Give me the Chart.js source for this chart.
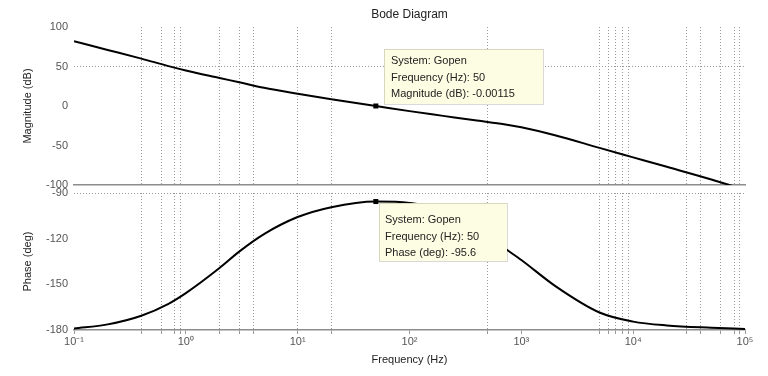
<!DOCTYPE html>
<html lang="en">
<head>
<meta charset="UTF-8" />
<title>Bode Diagram</title>
<style>
  html, body { margin: 0; padding: 0; background: #fff; }
  .wrap { position: relative; width: 768px; height: 376px; }
  .wrap canvas { position: absolute; left: 0; top: 0; }
</style>
</head>
<body>
<div class="wrap">
  <canvas id="magChart" width="768" height="376"></canvas>
  <canvas id="phaseChart" width="768" height="376"></canvas>
</div>
<script src="https://cdn.jsdelivr.net/npm/chart.js"></script>
<script>
// frequency response
var freqs = [0.1, 0.2, 0.4, 0.7, 1, 2, 3, 5, 10, 20, 50, 100, 200, 400, 700, 1000, 2000, 5000, 10000, 20000, 50000, 100000];
var magnitude = [82, 71, 60, 50.5, 45, 35.5, 30, 23, 15.5, 8.5, 0, -6.5, -12.5, -18.5, -23, -27, -37, -53, -65, -77, -93, -106];
var phase = [-179, -176.3, -170.6, -162.8, -155.8, -139.3, -128.5, -117, -105.8, -99.3, -95.6, -96.5, -101, -113, -126, -134, -151, -168.5, -174.5, -177, -178.5, -179.3];

var decades = [0.1, 1, 10, 100, 1000, 10000, 100000];
var decadeLabels = ["10⁻¹", "10⁰", "10¹", "10²", "10³", "10⁴", "10⁵"];
var gridFreqs = [0.4, 0.6, 0.8, 0.9, 2, 3, 4, 10, 20, 500, 5000, 6000, 7000, 8000, 9000, 30000, 40000, 60000, 80000, 90000];

var magTicks = [-100, -50, 0, 50, 100];
var magGrid = [50];
var phaseTicks = [-180, -150, -120, -90];
var phaseGrid = [-90];

var tipFreq = 50;
var tipMag = -0.00115;
var tipPhase = -95.6;
var magTipLines = ["System: Gopen", "Frequency (Hz): 50", "Magnitude (dB): -0.00115"];
var phaseTipLines = ["System: Gopen", "Frequency (Hz): 50", "Phase (deg): -95.6"];

var FONT = '"Liberation Sans", Arial, sans-serif';
var GRID = "#9a9a9a";

function points(ys) {
  return freqs.map(function (f, i) { return { x: f, y: ys[i] }; });
}

var xTicks = decades.concat(gridFreqs.filter(function (v) {
  return decades.indexOf(v) < 0;
})).sort(function (a, b) { return a - b; });

function xGridColor(ctx) {
  return ctx.tick && gridFreqs.indexOf(ctx.tick.value) >= 0 ? GRID : "rgba(0,0,0,0)";
}

function yGridColor(list) {
  return function (ctx) {
    return ctx.tick && list.indexOf(ctx.tick.value) >= 0 ? GRID : "rgba(0,0,0,0)";
  };
}

function tipPlugin(value, lines, box) {
  return {
    id: "datatip",
    afterDatasetsDraw: function (chart) {
      var ctx = chart.ctx;
      var px = chart.scales.x.getPixelForValue(tipFreq);
      var py = chart.scales.y.getPixelForValue(value);
      var bx = Math.round(px + box.dx), by = Math.round(py + box.dy);
      ctx.save();
      ctx.fillStyle = "#fdfde3";
      ctx.fillRect(bx, by, box.w, box.h);
      ctx.strokeStyle = "rgba(0,0,0,0.15)";
      ctx.lineWidth = 1;
      ctx.strokeRect(bx + 0.5, by + 0.5, box.w, box.h);
      ctx.fillStyle = "#000";
      ctx.fillRect(px - 2.5, py - 2.5, 5, 5);
      ctx.fillStyle = "#222";
      ctx.font = "11px " + FONT;
      ctx.textBaseline = "middle";
      lines.forEach(function (t, i) {
        ctx.fillText(t, bx + box.tx, by + box.ty + i * 16.5);
      });
      if (box.title) {
        var ca = chart.chartArea;
        ctx.textAlign = "center";
        ctx.font = "12px " + FONT;
        ctx.fillText(box.title, (ca.left + ca.right) / 2, 15);
      }
      ctx.restore();
    }
  };
}

function xScale(isBottom) {
  return {
    type: "logarithmic",
    min: 0.1,
    max: 100000,
    afterBuildTicks: function (scale) {
      scale.ticks = xTicks.map(function (v) { return { value: v }; });
    },
    afterFit: function (scale) { scale.height = isBottom ? 46 : 0; },
    grid: {
      color: xGridColor,
      lineWidth: 1,
      drawTicks: isBottom,
      tickLength: 4,
      tickColor: GRID
    },
    border: { display: true, color: "#8c8c8c", width: 1.5, dash: [1, 2] },
    ticks: {
      display: isBottom,
      autoSkip: false,
      maxRotation: 0,
      padding: 1,
      color: "#555",
      font: { family: FONT, size: 11 },
      callback: function (v) {
        var i = decades.indexOf(v);
        return i >= 0 ? decadeLabels[i] : "";
      }
    },
    title: {
      display: isBottom,
      text: "Frequency (Hz)",
      color: "#222",
      font: { family: FONT, size: 11 },
      padding: { top: 0, bottom: 9 }
    }
  };
}

function yScale(min, max, tickList, gridList, label) {
  return {
    min: min,
    max: max,
    afterBuildTicks: function (scale) {
      scale.ticks = tickList.map(function (v) { return { value: v }; });
    },
    afterFit: function (scale) { scale.width = 74; },
    grid: { color: yGridColor(gridList), drawTicks: false },
    border: { display: false, dash: [1, 2] },
    ticks: {
      padding: 6,
      color: "#555",
      font: { family: FONT, size: 11 }
    },
    title: {
      display: true,
      text: label,
      color: "#222",
      font: { family: FONT, size: 11 },
      padding: { top: 21, bottom: 0 }
    }
  };
}

function lineDataset(ys) {
  return {
    data: points(ys),
    borderColor: "#000",
    borderWidth: 2,
    pointRadius: 0,
    cubicInterpolationMode: "monotone",
    fill: false
  };
}

new Chart(document.getElementById("magChart"), {
  type: "line",
  data: { datasets: [lineDataset(magnitude)] },
  options: {
    responsive: false,
    animation: false,
    layout: { padding: { left: 0, right: 23, top: 27, bottom: 191 } },
    plugins: { legend: { display: false }, tooltip: { enabled: false } },
    scales: {
      x: xScale(false),
      y: yScale(-100, 100, magTicks, magGrid, "Magnitude (dB)")
    }
  },
  plugins: [tipPlugin(tipMag, magTipLines, { dx: 8, dy: -57, w: 159, h: 55, tx: 7, ty: 12, title: "Bode Diagram" })]
});

new Chart(document.getElementById("phaseChart"), {
  type: "line",
  data: { datasets: [lineDataset(phase)] },
  options: {
    responsive: false,
    animation: false,
    layout: { padding: { left: 0, right: 23, top: 193, bottom: 0 } },
    plugins: { legend: { display: false }, tooltip: { enabled: false } },
    scales: {
      x: xScale(true),
      y: yScale(-180, -90, phaseTicks, phaseGrid, "Phase (deg)")
    }
  },
  plugins: [tipPlugin(tipPhase, phaseTipLines, { dx: 3, dy: 1, w: 128, h: 58, tx: 6, ty: 17 })]
});
</script>
</body>
</html>
